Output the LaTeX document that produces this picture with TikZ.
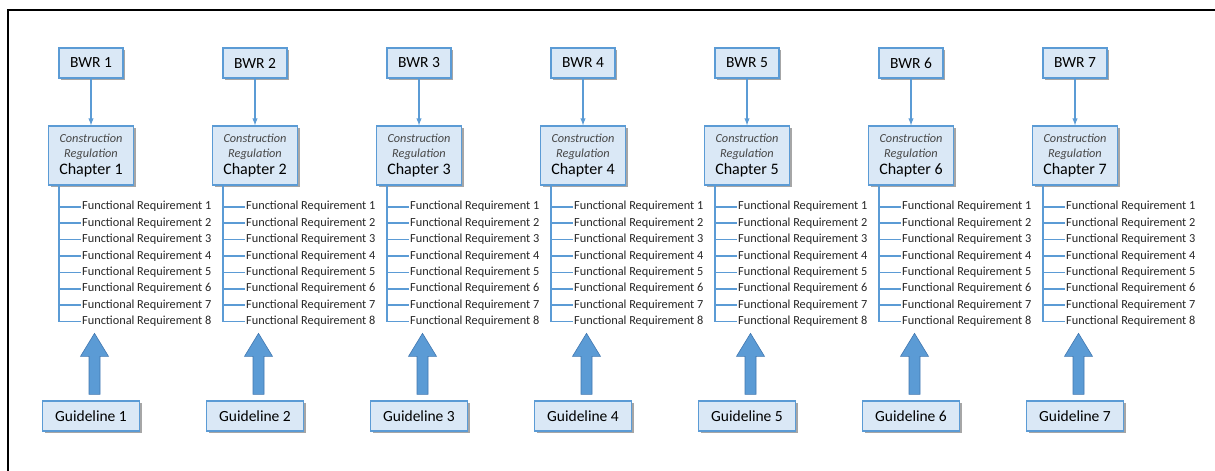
\documentclass[tikz,border=0pt]{standalone}
\usepackage{fontspec}
\setmainfont{Carlito}
\usetikzlibrary{positioning,calc,shadows}
\definecolor{boxfill}{RGB}{218,232,246}
\definecolor{boxline}{RGB}{91,155,213}
\definecolor{arrowline}{RGB}{65,119,176}
\definecolor{itgray}{RGB}{70,70,70}

\begin{document}
\begin{tikzpicture}
[x=1pt, y=-1pt,
box/.style ={rectangle, draw=boxline, fill=boxfill, line width=1.3pt, inner sep=0pt,
	drop shadow={shadow xshift=2pt, shadow yshift=-2pt, fill=black, opacity=0.35}},
bwr/.style ={box, minimum width=64pt, minimum height=30pt, font=\fontsize{15.5}{18}\selectfont},
chap/.style ={box, minimum width=85pt, minimum height=59pt, align=center, font=\fontsize{12.3}{15}\selectfont},
guide/.style ={box, minimum width=97pt, minimum height=30pt, font=\fontsize{15.5}{18}\selectfont},
freq/.style ={anchor=west, inner sep=1pt, text=black!85, font=\fontsize{12.3}{14}\selectfont},
line/.style ={draw=boxline, line width=1.4pt, -latex},
tree/.style ={draw=boxline, line width=1.6pt},
bigarrow/.style ={fill=boxline, draw=arrowline, line width=0.6pt, line join=miter}]
\useasboundingbox (0,0) rectangle (1215,471);
\clip (0,0) rectangle (1215,471);
\draw[line width=2pt] (8,490) |- (1230,10);
\foreach \i in {1,...,7} {
	\pgfmathsetmacro{\x}{91+164*(\i-1)}
	\draw (\x, 63) node[bwr] (bwr\i) {BWR \i};
	\draw (\x, 155.5) node[chap] (chap\i) {{\itshape\color{itgray}Construction}\\{\itshape\color{itgray}Regulation}\\[2pt]{\fontsize{16}{18}\selectfont Chapter \i}};
	\draw (\x, 416) node[guide] (gl\i) {Guideline \i};
	\draw[line] (bwr\i) -- (chap\i);
	\coordinate (stem\i) at ($(chap\i.south west)+(11,0)$);
	\foreach \j in {1,...,8} {
		\draw (\x-10, 206.7+16.4*\j-16.4) node[freq] (fr\i-\j) {Functional Requirement \j};
		\draw[tree] (stem\i |- fr\i-\j.west) -- (fr\i-\j.west);
	}
	\draw[tree] (stem\i) -- (stem\i |- fr\i-8.west);
	\draw[bigarrow] ($(gl\i.north)+(-2,-6)$) -- ++(0,-38) -- ++(-8.5,0) -- ++(14,-23) -- ++(14,23) -- ++(-8.5,0) -- ++(0,38) -- cycle;
}
\end{tikzpicture}
\end{document}
